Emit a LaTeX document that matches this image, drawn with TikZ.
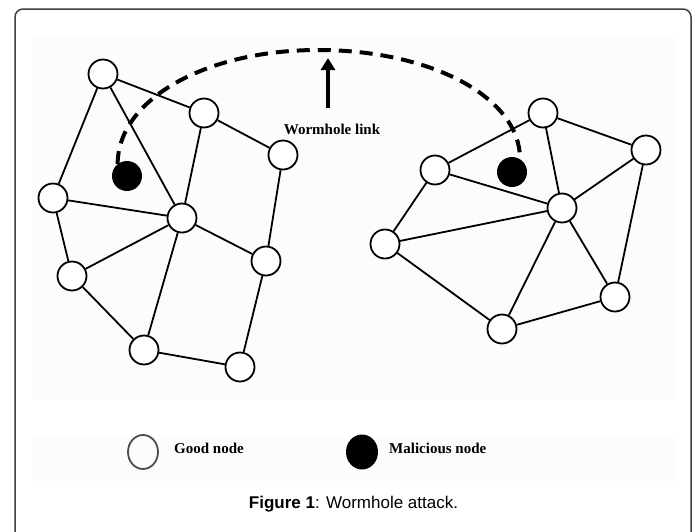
\documentclass[tikz,border=0pt]{standalone}
\usepackage{fontspec}
\setmainfont{Liberation Serif}
\newfontfamily\capfont{Liberation Sans}
\usetikzlibrary{arrows.meta,shapes.geometric}
\begin{document}
\begin{tikzpicture}[x=1pt,y=-1pt,
  good/.style={circle,draw=black,line width=1.8pt,fill=white,minimum size=29pt,inner sep=0pt},
  bad/.style={circle,fill=black,minimum size=30pt,inner sep=0pt},
  edge/.style={line width=1.8pt},
  worm/.style={line width=4pt,dash pattern=on 13pt off 8pt},
  lbl/.style={font=\fontsize{15}{15}\selectfont\bfseries,inner sep=0pt},
  band/.style={fill={rgb,255:red,252;green,252;blue,252}}]
\useasboundingbox (0,0) rectangle (697,531);
\fill[band] (32,37) rectangle (675,400);
\fill[band] (32,438) rectangle (675,481);
\draw[line width=1.5pt,draw=black!75,rounded corners=8pt] (15,9) rectangle (691,580);

% left network
\node[good] (a) at (103,74) {};
\node[good] (b) at (204,113) {};
\node[good] (c) at (283,155) {};
\node[good] (d) at (53,198) {};
\node[good] (e) at (182,218) {};
\node[good] (f) at (72,276) {};
\node[good] (g) at (266,261) {};
\node[good] (h) at (144,350) {};
\node[good] (i) at (240,367) {};
\node[bad] (m1) at (127,176) {};

% right network
\node[good] (p) at (543,113) {};
\node[good] (q) at (646,150) {};
\node[good] (r) at (435,170) {};
\node[good] (s) at (562,208) {};
\node[good] (t) at (385,244) {};
\node[good] (u) at (615,297) {};
\node[good] (v) at (502,329) {};
\node[bad] (m2) at (512,172) {};

\foreach \x/\y in {a/b,a/d,a/e,b/e,b/c,c/g,d/e,d/f,e/f,e/g,e/h,f/h,g/i,h/i,
                   r/p,p/q,p/s,r/s,r/t,s/q,s/t,s/v,s/u,q/u,t/v,v/u}
  \draw[edge] (\x) -- (\y);

% wormhole link
\coordinate (top) at (318,50);
\draw[worm] (m1.128) .. controls +(0,-64) and +(-113,0) .. (top)
  .. controls +(113,0) and +(0,-62) .. (m2.58);

\coordinate (atail) at (328,108);
\coordinate (atip) at (328,58);
\draw[line width=4pt,-{Triangle[length=12pt,width=14pt]}] (atail) -- (atip);
\node[lbl] (wl) at (332,129) {Wormhole link};

% legend
\node[ellipse,draw=black!70,line width=1.8pt,minimum width=30pt,minimum height=34pt,inner sep=0pt] (lg) at (143,452) {};
\node[lbl,anchor=west] (lgt) at (174,448) {Good node};
\node[ellipse,fill=black,minimum width=32pt,minimum height=35pt,inner sep=0pt] (lm) at (362,452) {};
\node[lbl,anchor=west] (lmt) at (389,448) {Malicious node};

% caption
\node[font=\capfont\fontsize{17}{17}\selectfont,inner sep=0pt] (cap) at (353.5,504) {\textbf{Figure 1}: Wormhole attack.};
\end{tikzpicture}
\end{document}
